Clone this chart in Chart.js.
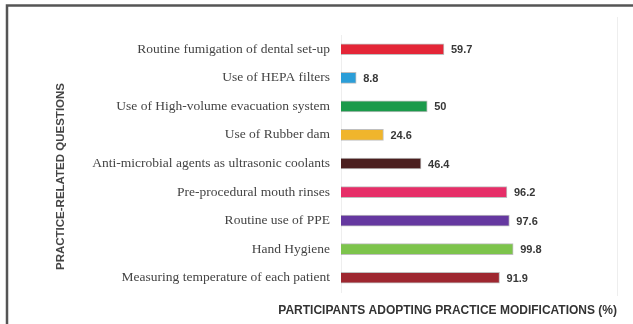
<!DOCTYPE html>
<html>
<head>
<meta charset="utf-8">
<script src="https://cdn.jsdelivr.net/npm/chart.js@4/dist/chart.umd.min.js"></script>
<style>
  html, body { margin: 0; padding: 0; background: #fff; }
  #wrap { width: 633px; height: 324px; position: relative; }
</style>
</head>
<body>
<div id="wrap"><canvas id="myChart"></canvas></div>
<script>
// categories (top to bottom)
const questions = [
    'Routine fumigation of dental set-up',
    'Use of HEPA filters',
    'Use of High-volume evacuation system',
    'Use of Rubber dam',
    'Anti-microbial agents as ultrasonic coolants',
    'Pre-procedural mouth rinses',
    'Routine use of PPE',
    'Hand Hygiene',
    'Measuring temperature of each patient'
];
// % participants adopting
const adopted = [59.7, 8.8, 50, 24.6, 46.4, 96.2, 97.6, 99.8, 91.9];
// bar colours
const barColors = ['#e42637', '#2b9ed8', '#1b9a4b', '#f0b52c', '#4b1f1f', '#e62e68', '#6538a0', '#7dc44c', '#9e2730'];

const yTitle = 'PRACTICE-RELATED QUESTIONS';
const xTitle = 'PARTICIPANTS ADOPTING PRACTICE MODIFICATIONS (%)';

// frame, white background and the two axis titles
// (titles drawn by hand: chart.js squeezes the x title to the plot width)
const framePlugin = {
    id: 'frame',
    beforeDraw(chart) {
        const c = chart.ctx;
        c.save();
        c.fillStyle = '#fff';
        c.fillRect(0, 0, chart.width, chart.height);
        c.strokeStyle = '#555';
        c.lineWidth = 2.5;
        c.beginPath();
        c.moveTo(7, chart.height);
        c.lineTo(7, 5.5);
        c.lineTo(chart.width, 5.5);
        c.stroke();
        // faint plot box edge
        const a = chart.chartArea;
        c.strokeStyle = '#eeeeee';
        c.lineWidth = 1;
        c.beginPath();
        c.moveTo(a.right + 0.5, a.top - 18);
        c.lineTo(a.right + 0.5, a.bottom + 4);
        c.stroke();
        c.restore();
    },
    afterDraw(chart) {
        const c = chart.ctx;
        const a = chart.chartArea;
        c.save();
        // x title
        c.font = 'bold 12px "Liberation Sans", sans-serif';
        c.fillStyle = '#333';
        c.textAlign = 'right';
        c.textBaseline = 'middle';
        c.fillText(xTitle, a.right, a.bottom + 19);
        // y title
        c.translate(61, (a.top + a.bottom) / 2 + 13);
        c.rotate(-Math.PI / 2);
        c.font = 'bold 11.5px "Liberation Sans", sans-serif';
        c.fillStyle = '#444';
        c.textAlign = 'center';
        c.fillText(yTitle, 0, 0);
        c.restore();
    }
};

// value labels at end of bars
const valueLabels = {
    id: 'valueLabels',
    afterDatasetsDraw(chart) {
        const c = chart.ctx;
        const meta = chart.getDatasetMeta(0);
        c.save();
        c.font = 'bold 11px "Liberation Sans", sans-serif';
        c.fillStyle = '#383838';
        c.textBaseline = 'middle';
        meta.data.forEach((bar, i) => {
            c.fillText(String(adopted[i]), bar.x + 7, bar.y + 1);
        });
        c.restore();
    }
};

const ctx = document.getElementById('myChart');
new Chart(ctx, {
    type: 'bar',
    data: {
        labels: questions,
        datasets: [{
            data: adopted,
            backgroundColor: barColors,
            borderColor: 'rgba(0,0,0,0.25)',
            borderWidth: 1,
            barThickness: 11
        }]
    },
    options: {
        indexAxis: 'y',
        responsive: true,
        maintainAspectRatio: false,
        animation: false,
        layout: { padding: { left: 8, top: 35, right: 16, bottom: 0 } },
        plugins: {
            legend: { display: false },
            tooltip: { enabled: false }
        },
        scales: {
            x: {
                min: 0,
                max: 160,
                ticks: { display: false },
                grid: { display: false },
                border: { display: false },
                title: { display: false },
                afterFit(scale) { scale.height = 32; }
            },
            y: {
                ticks: {
                    color: '#444',
                    padding: 11,
                    font: { family: '"Liberation Serif", serif', size: 13.5 }
                },
                grid: { display: false, drawTicks: false },
                border: { display: true, color: '#eeeeee' },
                title: { display: false },
                afterFit(scale) { scale.width = 333; }
            }
        }
    },
    plugins: [framePlugin, valueLabels]
});
</script>
</body>
</html>
